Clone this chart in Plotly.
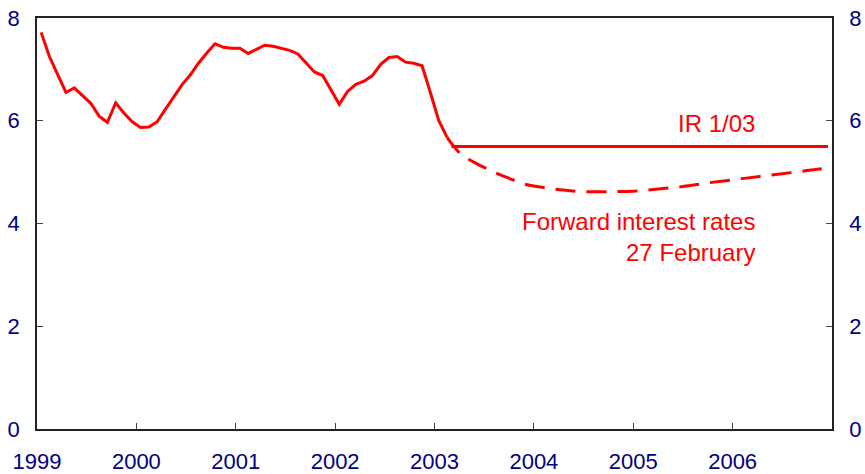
import plotly.graph_objects as go

# Historical cash rate, monthly Jan 1999 - Feb 2003 (per cent)
hist_start = 1999
hist_rate = [7.72, 7.25, 6.90, 6.55, 6.64, 6.48, 6.34, 6.09, 5.97, 6.35, 6.15, 5.98,
             5.87, 5.88, 5.98, 6.22, 6.47, 6.70, 6.89, 7.12, 7.32, 7.50, 7.43, 7.41,
             7.41, 7.31, 7.39, 7.47, 7.45, 7.41, 7.37, 7.30, 7.12, 6.95, 6.88, 6.60,
             6.32, 6.57, 6.71, 6.77, 6.88, 7.10, 7.23, 7.25, 7.14, 7.12, 7.07, 6.55,
             6.01, 5.68]
hist_x = [hist_start + (i + 0.5) / 12 for i in range(len(hist_rate))]

# IR 1/03 assumption
ir_x = [2003.17, 2006.96]
ir_rate = [5.5, 5.5]

# Forward interest rates, 27 February
fwd_x = [2003.125, 2003.25, 2003.4, 2003.6, 2003.75, 2003.9, 2004.1, 2004.3, 2004.5,
         2004.75, 2005.0, 2005.25, 2005.5, 2005.75, 2006.0, 2006.25, 2006.5, 2006.75, 2006.95]
fwd_rate = [5.68, 5.38, 5.19, 5.00, 4.88, 4.77, 4.70, 4.65, 4.62,
            4.62, 4.63, 4.67, 4.72, 4.79, 4.85, 4.91, 4.97, 5.03, 5.08]

years = [1999, 2000, 2001, 2002, 2003, 2004, 2005, 2006]
y_ticks = [0, 2, 4, 6, 8]

RED = '#ff0000'
NAVY = '#000080'
FONT = 'Liberation Sans, Arial, sans-serif'

fig = go.Figure()
fig.add_trace(go.Scatter(x=hist_x, y=hist_rate, mode='lines',
                         line=dict(color=RED, width=3), hoverinfo='skip'))
fig.add_trace(go.Scatter(x=ir_x, y=ir_rate, mode='lines',
                         line=dict(color=RED, width=3), hoverinfo='skip'))
fig.add_trace(go.Scatter(x=fwd_x, y=fwd_rate, mode='lines',
                         line=dict(color=RED, width=3, dash='20px,11px', shape='spline'),
                         hoverinfo='skip'))
# invisible trace to drive the right-hand axis
fig.add_trace(go.Scatter(x=[1999], y=[0], yaxis='y2', mode='markers',
                         marker=dict(opacity=0), hoverinfo='skip'))

fig.add_annotation(x=2006.25, y=5.5, text='IR 1/03', showarrow=False,
                   xanchor='right', yanchor='bottom', yshift=7,
                   font=dict(color=RED, size=24, family=FONT))
fig.add_annotation(x=2006.25, y=4.34, text='Forward interest rates<br>27 February',
                   showarrow=False, xanchor='right', yanchor='top', align='right',
                   font=dict(color=RED, size=24, family=FONT))

axis_common = dict(showgrid=False, zeroline=False, showline=True, linecolor='#222222',
                   linewidth=1.5, ticks='inside', ticklen=6, tickcolor='#444444',
                   automargin=False, ticklabeloverflow='allow',
                   tickfont=dict(color=NAVY, size=22, family=FONT))

fig.update_layout(
    width=865, height=474,
    margin=dict(l=37, r=33, t=18, b=45),
    paper_bgcolor='white', plot_bgcolor='white',
    showlegend=False,
    xaxis=dict(range=[1999, 2007], tickvals=years, ticktext=[str(y) for y in years],
               mirror=True, ticklabelstandoff=12, **axis_common),
    yaxis=dict(range=[0, 8], tickvals=y_ticks, mirror=True, ticklabelstandoff=11,
               **axis_common),
    yaxis2=dict(range=[0, 8], tickvals=y_ticks, overlaying='y', side='right',
                ticklabelstandoff=11, **axis_common),
)

# drop the browser's default body margin so the figure fills the window
fig.write_html("out.html",
               config={'displayModeBar': False},
               post_script="document.body.style.margin='0px';"
                           "document.body.style.overflow='hidden';")
